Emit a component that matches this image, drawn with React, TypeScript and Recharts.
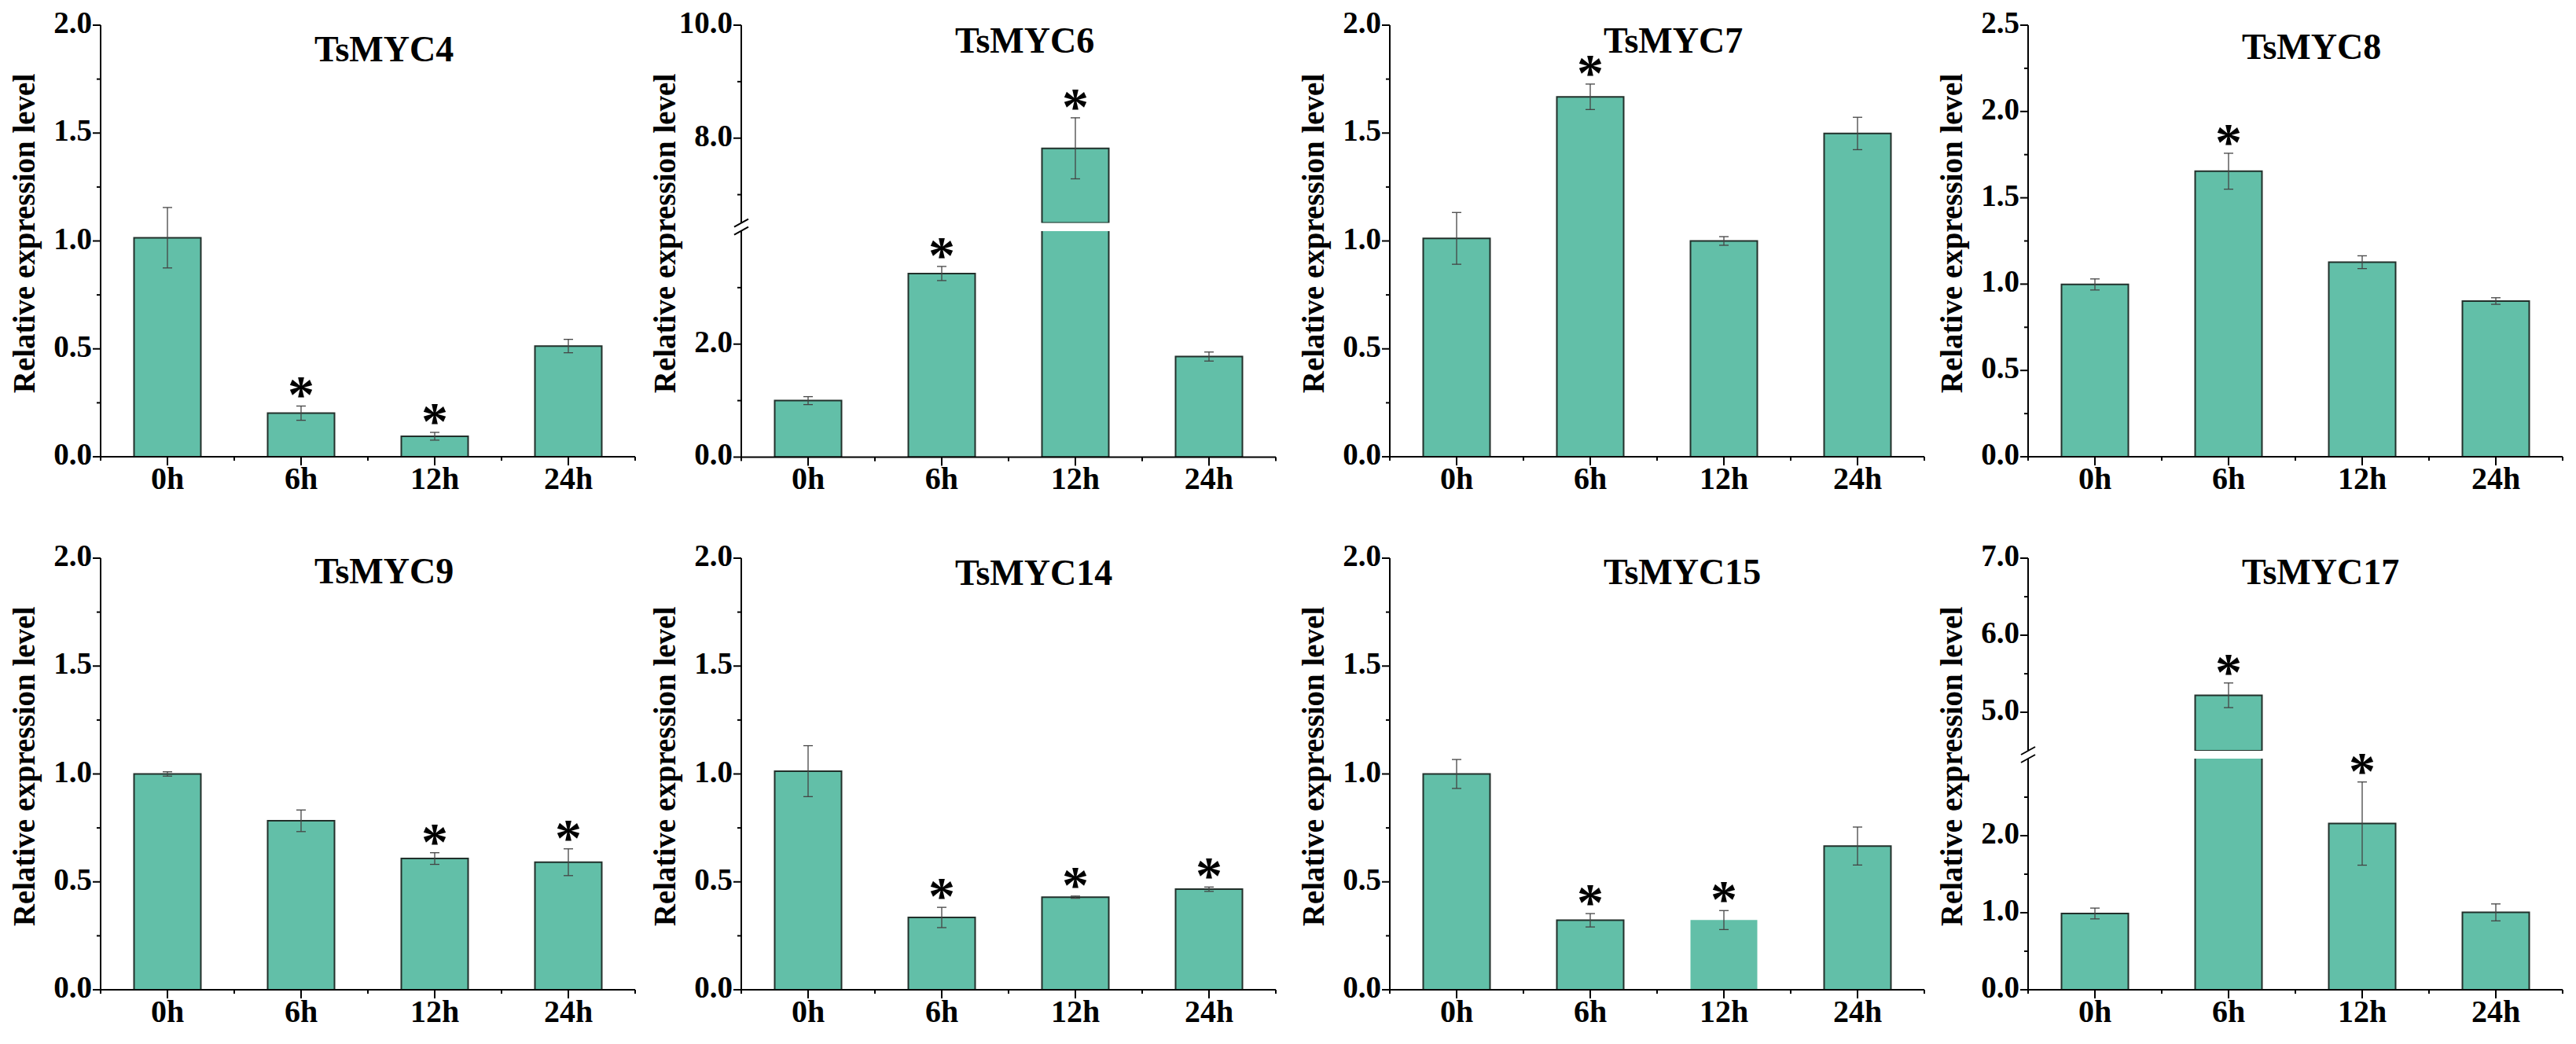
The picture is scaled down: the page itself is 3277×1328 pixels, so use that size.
import { BarChart, Bar, XAxis, YAxis, ErrorBar, LabelList, Cell } from 'recharts';

// time points shared by every panel
const CATEGORIES = ['0h', '6h', '12h', '24h'];

const MEAN_MYC4 = [1.015, 0.202, 0.095, 0.513];
const ERR_MYC4 = [0.14, 0.033, 0.018, 0.031];
const STAR_MYC4 = [false, true, true, false];

const MEAN_MYC6 = [1.0, 3.25, 7.82, 1.78];
const ERR_MYC6 = [0.07, 0.125, 0.54, 0.08];
const STAR_MYC6 = [false, true, true, false];

const MEAN_MYC7 = [1.012, 1.668, 1.0, 1.498];
const ERR_MYC7 = [0.12, 0.059, 0.02, 0.075];
const STAR_MYC7 = [false, true, false, false];

const MEAN_MYC8 = [0.998, 1.654, 1.127, 0.902];
const ERR_MYC8 = [0.032, 0.104, 0.037, 0.019];
const STAR_MYC8 = [false, true, false, false];

const MEAN_MYC9 = [1.0, 0.783, 0.608, 0.591];
const ERR_MYC9 = [0.01, 0.05, 0.027, 0.062];
const STAR_MYC9 = [false, false, true, true];

const MEAN_MYC14 = [1.013, 0.335, 0.429, 0.466];
const ERR_MYC14 = [0.118, 0.047, 0.005, 0.01];
const STAR_MYC14 = [false, true, true, true];

const MEAN_MYC15 = [1.0, 0.322, 0.323, 0.666];
const ERR_MYC15 = [0.067, 0.031, 0.044, 0.088];
const STAR_MYC15 = [false, true, true, false];

const MEAN_MYC17 = [0.99, 5.22, 2.157, 1.004];
const ERR_MYC17 = [0.07, 0.16, 0.54, 0.11];
const STAR_MYC17 = [false, true, true, false];

// y tick values (all ticks, and the labelled ones)
const TICKS_2 = [0, 0.25, 0.5, 0.75, 1.0, 1.25, 1.5, 1.75, 2.0];
const MAJOR_2 = [0, 0.5, 1.0, 1.5, 2.0];
const TICKS_25 = [0, 0.25, 0.5, 0.75, 1.0, 1.25, 1.5, 1.75, 2.0, 2.25, 2.5];
const MAJOR_25 = [0, 0.5, 1.0, 1.5, 2.0, 2.5];
const TICKS_MYC6_LOW = [0, 1, 2, 3];
const MAJOR_MYC6_LOW = [0, 2];
const TICKS_MYC6_HIGH = [7, 8, 9, 10];
const MAJOR_MYC6_HIGH = [8, 10];
const TICKS_MYC17_LOW = [0, 0.5, 1, 1.5, 2, 2.5];
const MAJOR_MYC17_LOW = [0, 1, 2];
const TICKS_MYC17_HIGH = [5, 5.5, 6, 6.5, 7];
const MAJOR_MYC17_HIGH = [5, 6, 7];

type Segment = { domain: [number, number]; ticks: number[]; majors: number[] };
type PanelDef = {
  title: string;
  means: number[];
  errs: number[];
  stars: boolean[];
  segments: Segment[]; // top segment first
  plain?: number[]; // bars drawn without outline
};

const PANELS: PanelDef[] = [
  { title: 'TsMYC4', means: MEAN_MYC4, errs: ERR_MYC4, stars: STAR_MYC4,
    segments: [{ domain: [0, 2], ticks: TICKS_2, majors: MAJOR_2 }] },
  { title: 'TsMYC6', means: MEAN_MYC6, errs: ERR_MYC6, stars: STAR_MYC6,
    segments: [
      { domain: [6.5, 10], ticks: TICKS_MYC6_HIGH, majors: MAJOR_MYC6_HIGH },
      { domain: [0, 4], ticks: TICKS_MYC6_LOW, majors: MAJOR_MYC6_LOW },
    ] },
  { title: 'TsMYC7', means: MEAN_MYC7, errs: ERR_MYC7, stars: STAR_MYC7,
    segments: [{ domain: [0, 2], ticks: TICKS_2, majors: MAJOR_2 }] },
  { title: 'TsMYC8', means: MEAN_MYC8, errs: ERR_MYC8, stars: STAR_MYC8,
    segments: [{ domain: [0, 2.5], ticks: TICKS_25, majors: MAJOR_25 }] },
  { title: 'TsMYC9', means: MEAN_MYC9, errs: ERR_MYC9, stars: STAR_MYC9,
    segments: [{ domain: [0, 2], ticks: TICKS_2, majors: MAJOR_2 }] },
  { title: 'TsMYC14', means: MEAN_MYC14, errs: ERR_MYC14, stars: STAR_MYC14,
    segments: [{ domain: [0, 2], ticks: TICKS_2, majors: MAJOR_2 }] },
  { title: 'TsMYC15', means: MEAN_MYC15, errs: ERR_MYC15, stars: STAR_MYC15,
    segments: [{ domain: [0, 2], ticks: TICKS_2, majors: MAJOR_2 }], plain: [2] },
  { title: 'TsMYC17', means: MEAN_MYC17, errs: ERR_MYC17, stars: STAR_MYC17,
    segments: [
      { domain: [4.5, 7], ticks: TICKS_MYC17_HIGH, majors: MAJOR_MYC17_HIGH },
      { domain: [0, 3], ticks: TICKS_MYC17_LOW, majors: MAJOR_MYC17_LOW },
    ] },
];

// layout
const COL_LEFT = [1, 816, 1641, 2453];
const ROW_TOP = [0, 678];
const TITLE_Y = [78, 67, 67, 75, 64, 66, 65, 65];
const PANEL_W = 815;
const AXIS_W = 127;
const PLOT_W = 680;
const PLOT_TOP = 32;
const PLOT_H = 549;
const XAXIS_H = 83;
const GAP = 10;
const BAND = PLOT_W / CATEGORIES.length;

const FONT = "'Liberation Serif', 'Times New Roman', serif";
const BAR_FILL = '#62bfa8';
const BAR_STROKE = '#22302b';

function makeYTick(majors: number[]) {
  return (props: any) => {
    const { x, y, payload } = props;
    const v = payload.value;
    const major = majors.includes(v);
    return (
      <g>
        <line x1={x - (major ? 10 : 5)} x2={x} y1={y} y2={y} stroke="#000" strokeWidth={2} />
        {major && (
          <text x={x - 11} y={y + 10} textAnchor="end" fontFamily={FONT} fontWeight="bold" fontSize={39} fill="#000">
            {v.toFixed(1)}
          </text>
        )}
      </g>
    );
  };
}

function XTick(props: any) {
  const { x, y, payload } = props;
  const h = BAND / 2;
  return (
    <g>
      <line x1={x} x2={x} y1={y} y2={y + 11} stroke="#000" strokeWidth={2} />
      <line x1={x - h} x2={x - h} y1={y} y2={y + 5} stroke="#000" strokeWidth={2} />
      <line x1={x + h} x2={x + h} y1={y} y2={y + 5} stroke="#000" strokeWidth={2} />
      <text x={x} y={y + 41} textAnchor="middle" fontFamily={FONT} fontWeight="bold" fontSize={40} fill="#000">
        {payload.value}
      </text>
    </g>
  );
}

// the label value is the error of a starred bar, so the star sits above the error cap
function makeStar(pxPerUnit: number) {
  return (props: any) => {
    const vb = props.viewBox || {};
    const x = props.x ?? vb.x;
    const y = props.y ?? vb.y;
    const width = props.width ?? vb.width;
    if (props.value == null || props.value === '' || x == null || y == null) return null;
    const errTop = y - Number(props.value) * pxPerUnit;
    return (
      <text x={x + width / 2} y={errTop + 8} textAnchor="middle" fontFamily={FONT} fontWeight="bold" fontSize={68} fill="#000">
        *
      </text>
    );
  };
}

function Panel({ def, left, top, titleY }: { def: PanelDef; left: number; top: number; titleY: number }) {
  const n = def.segments.length;
  const units = def.segments.reduce((s, g) => s + (g.domain[1] - g.domain[0]), 0);
  const pxPerUnit = (PLOT_H - GAP * (n - 1)) / units;
  let cursor = 0;
  const segs = def.segments.map((seg, si) => {
    const h = (seg.domain[1] - seg.domain[0]) * pxPerUnit;
    const segTop = cursor;
    cursor += h + GAP;
    const lowest = si === n - 1;
    const rows = CATEGORIES.map((cat, i) => {
      const m = def.means[i];
      const inSeg = m > seg.domain[0] && m <= seg.domain[1];
      return {
        cat,
        value: lowest || m > seg.domain[0] ? m : null,
        err: inSeg ? def.errs[i] : undefined,
        star: inSeg && def.stars[i] ? def.errs[i] : null,
      };
    });
    return { seg, h, segTop, lowest, rows };
  });

  return (
    <div style={{ position: 'absolute', left, top, width: PANEL_W, height: PLOT_TOP + PLOT_H + XAXIS_H }}>
      {segs.map(({ seg, h, segTop, lowest, rows }, si) => (
        <div key={si} style={{ position: 'absolute', left: 0, top: segTop }}>
          <BarChart
            width={PANEL_W}
            height={PLOT_TOP + h + (lowest ? XAXIS_H : 0)}
            data={rows}
            margin={{ top: PLOT_TOP, right: PANEL_W - AXIS_W - PLOT_W, bottom: 0, left: 0 }}
            barCategoryGap="25%"
          >
            <XAxis
              dataKey="cat"
              hide={!lowest}
              height={XAXIS_H}
              interval={0}
              tickLine={false}
              tickSize={0}
              tickMargin={0}
              tick={<XTick />}
              axisLine={{ stroke: '#000', strokeWidth: 2 }}
            />
            <YAxis
              type="number"
              domain={seg.domain}
              ticks={seg.ticks}
              allowDataOverflow
              interval={0}
              width={AXIS_W}
              tickLine={false}
              tickSize={0}
              tickMargin={0}
              tick={makeYTick(seg.majors)}
              axisLine={{ stroke: '#000', strokeWidth: 2 }}
            />
            <Bar dataKey="value" fill={BAR_FILL} stroke={BAR_STROKE} strokeWidth={2} isAnimationActive={false}>
              {rows.map((_, i) => (
                <Cell key={i} stroke={def.plain && def.plain.includes(i) ? 'none' : BAR_STROKE} />
              ))}
              <ErrorBar dataKey="err" width={6} stroke="#444" strokeWidth={1.3} direction="y" />
              <LabelList dataKey="star" content={makeStar(pxPerUnit)} />
            </Bar>
          </BarChart>
        </div>
      ))}
      <svg width={PANEL_W} height={PLOT_TOP + PLOT_H + XAXIS_H} style={{ position: 'absolute', left: 0, top: 0, pointerEvents: 'none' }}>
        <text x={AXIS_W + 272} y={titleY} fontFamily={FONT} fontWeight="bold" fontSize={46} fill="#000">
          {def.title}
        </text>
        <text
          transform={`translate(${AXIS_W - 84}, ${PLOT_TOP + 265}) rotate(-90)`}
          textAnchor="middle"
          fontFamily={FONT}
          fontWeight="bold"
          fontSize={39}
          fill="#000"
        >
          Relative expression level
        </text>
        {segs.slice(1).map(({ segTop }, k) => {
          const gBot = PLOT_TOP + segTop;
          const gTop = gBot - GAP;
          return (
            <g key={k} stroke="#000" strokeWidth={2}>
              <rect x={AXIS_W - 3} y={gTop} width={6} height={GAP} fill="#fff" stroke="none" />
              <line x1={AXIS_W - 9} y1={gTop + 5} x2={AXIS_W + 9} y2={gTop - 5} />
              <line x1={AXIS_W - 9} y1={gBot + 5} x2={AXIS_W + 9} y2={gBot - 5} />
            </g>
          );
        })}
      </svg>
    </div>
  );
}

export default function App() {
  return (
    <div style={{ position: 'absolute', left: 0, top: 0, width: 3277, height: 1328, background: '#fff' }}>
      {PANELS.map((p, i) => (
        <Panel
          key={p.title}
          def={p}
          left={COL_LEFT[i % 4]}
          top={ROW_TOP[Math.floor(i / 4)]}
          titleY={TITLE_Y[i]}
        />
      ))}
    </div>
  );
}
